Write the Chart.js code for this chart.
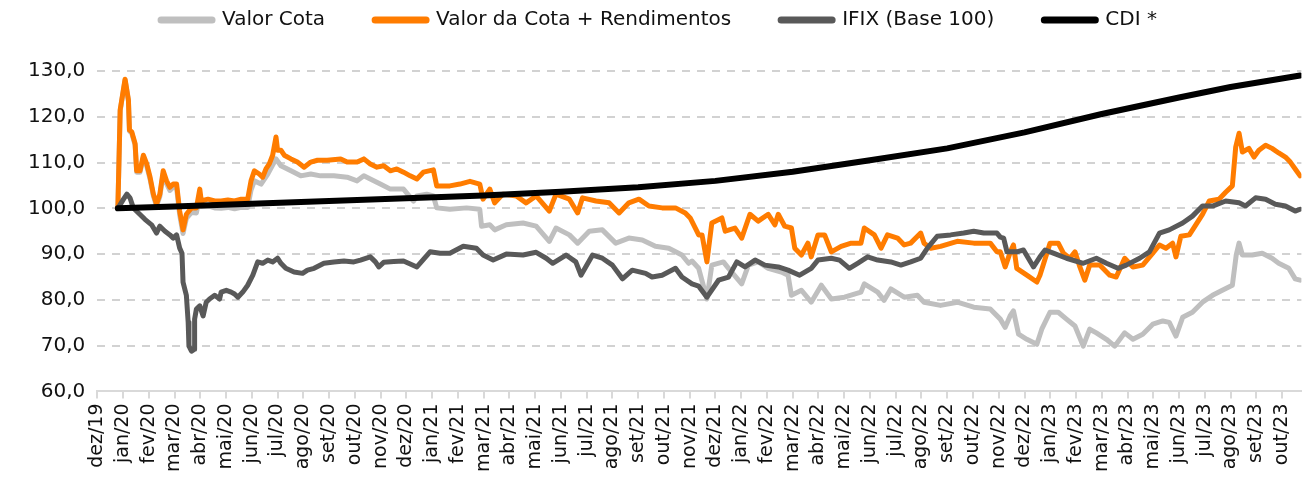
<!DOCTYPE html>
<html>
<head>
<meta charset="utf-8">
<script src="https://cdn.jsdelivr.net/npm/chart.js@4.4.1/dist/chart.umd.min.js"></script>
<style>
html,body{margin:0;padding:0;background:#fff;}
#wrap{width:1310px;height:478px;}
</style>
</head>
<body>
<div id="wrap"><canvas id="c" width="1310" height="478"></canvas></div>
<script>
const monthLabels = ["dez/19","jan/20","fev/20","mar/20","abr/20","mai/20","jun/20","jul/20","ago/20","set/20","out/20","nov/20","dez/20","jan/21","fev/21","mar/21","abr/21","mai/21","jun/21","jul/21","ago/21","set/21","out/21","nov/21","dez/21","jan/22","fev/22","mar/22","abr/22","mai/22","jun/22","jul/22","ago/22","set/22","out/22","nov/22","dez/22","jan/23","fev/23","mar/23","abr/23","mai/23","jun/23","jul/23","ago/23","set/23","out/23"];
const yTicks = [60,70,80,90,100,110,120,130];
const seriesNames = ["Valor Cota","Valor da Cota + Rendimentos","IFIX (Base 100)","CDI *"];

// x values are months elapsed since the dez/19 tick
const cotaX = [0.80,0.89,1.08,1.21,1.25,1.34,1.47,1.53,1.66,1.79,1.92,2.05,2.18,2.30,2.43,2.56,2.69,2.82,2.95,3.08,3.20,3.33,3.46,3.66,3.85,3.98,4.04,4.30,4.56,4.81,5.07,5.33,5.59,5.84,5.97,6.10,6.36,6.62,6.94,7.13,7.52,7.90,8.29,8.67,9.19,9.70,10.09,10.35,10.60,10.99,11.38,11.89,12.28,12.41,12.79,13.05,13.18,13.69,14.34,14.85,14.92,15.24,15.43,15.88,16.53,17.04,17.55,17.81,18.33,18.65,19.10,19.61,20.13,20.64,21.16,21.67,22.19,22.70,22.96,23.09,23.35,23.67,23.86,24.31,24.51,25.02,25.28,25.66,26.05,26.56,26.82,26.95,27.34,27.72,28.11,28.50,29.01,29.65,29.78,30.30,30.55,30.81,31.33,31.84,32.10,32.74,33.39,34.03,34.67,35.06,35.25,35.44,35.57,35.77,36.09,36.48,36.67,36.99,37.31,37.63,37.96,38.28,38.53,38.79,39.18,39.50,39.89,40.21,40.59,40.98,41.37,41.62,41.88,42.14,42.52,42.91,43.30,43.68,44.07,44.22,44.33,44.46,44.84,45.23,45.61,45.87,46.26,46.51,46.70];
const cotaY = [100.0,121.3,128.0,123.5,116.9,116.4,113.8,107.9,107.9,111.2,109.3,106.4,102.7,100.5,102.6,107.6,105.4,103.9,104.6,104.5,98.6,94.5,97.8,99.1,99.0,103.0,100.4,100.6,100.1,100.0,100.2,99.9,100.2,100.2,104.0,106.0,105.3,107.5,110.8,109.3,108.2,107.1,107.5,107.1,107.1,106.8,106.0,107.1,106.4,105.3,104.2,104.2,101.6,102.7,103.1,102.7,100.1,99.8,100.1,99.8,96.1,96.4,95.3,96.4,96.8,96.1,92.8,95.7,94.2,92.4,95.0,95.3,92.4,93.5,93.1,91.7,91.3,89.8,88.0,88.5,86.9,80.2,87.6,88.3,86.9,83.5,87.6,88.3,86.9,86.1,85.4,81.0,82.1,79.5,83.2,80.2,80.6,81.7,83.5,81.7,79.9,82.4,80.6,81.0,79.5,78.8,79.5,78.4,78.0,75.8,74.0,76.5,77.6,72.5,71.4,70.3,73.6,77.3,77.3,75.8,74.3,69.9,73.6,72.8,71.4,69.9,72.8,71.4,72.5,74.7,75.4,75.1,72.1,76.2,77.3,79.5,81.0,82.1,83.2,89.8,92.4,89.8,89.8,90.2,89.1,88.0,86.9,84.6,84.3];

const rendX = [0.80,0.89,1.08,1.21,1.25,1.34,1.47,1.53,1.66,1.79,1.92,2.05,2.18,2.30,2.43,2.56,2.69,2.82,2.95,3.08,3.20,3.33,3.46,3.66,3.85,3.98,4.04,4.30,4.56,4.81,5.07,5.33,5.59,5.84,5.97,6.10,6.29,6.42,6.55,6.68,6.81,6.94,7.00,7.13,7.26,7.52,7.77,8.03,8.29,8.55,8.93,9.45,9.70,10.09,10.35,10.60,10.86,11.12,11.38,11.63,11.89,12.15,12.41,12.66,13.05,13.18,13.69,14.08,14.47,14.85,14.98,15.24,15.43,15.75,16.27,16.65,17.04,17.55,17.81,18.33,18.65,18.84,19.36,19.87,20.26,20.64,21.03,21.42,21.93,22.45,22.83,23.02,23.22,23.35,23.48,23.67,23.86,24.25,24.38,24.76,25.02,25.34,25.66,26.05,26.31,26.44,26.69,26.95,27.08,27.34,27.59,27.72,27.98,28.24,28.50,28.88,29.27,29.65,29.78,30.17,30.43,30.68,31.07,31.33,31.58,31.97,32.10,32.36,32.74,33.39,34.03,34.67,34.93,35.06,35.25,35.45,35.57,35.70,36.09,36.48,36.60,36.99,37.31,37.51,37.76,37.96,38.15,38.34,38.53,38.92,39.31,39.56,39.89,40.21,40.59,40.98,41.24,41.49,41.75,41.88,42.07,42.40,42.65,42.91,43.17,43.55,43.81,44.07,44.20,44.33,44.46,44.71,44.91,45.10,45.36,45.61,45.87,46.13,46.32,46.51,46.70];
const rendY = [100.0,121.5,128.2,123.7,117.1,116.7,114.1,108.2,108.2,111.6,109.7,106.8,103.1,100.9,103.1,108.2,106.0,104.6,105.3,105.3,99.4,95.3,98.7,100.1,100.1,104.2,101.6,102.0,101.6,101.6,101.8,101.6,102.0,102.0,106.0,108.2,107.5,106.8,108.6,109.7,111.6,115.6,112.7,112.7,111.6,110.8,110.1,109.0,110.1,110.5,110.5,110.8,110.1,110.1,110.8,109.7,109.0,109.3,108.2,108.6,107.9,107.1,106.4,107.9,108.4,104.9,104.9,105.3,105.9,105.3,102.0,104.2,101.2,103.1,102.7,101.2,102.7,99.4,103.1,102.0,99.0,102.3,101.6,101.2,99.0,101.2,102.0,100.5,100.1,100.1,99.0,97.9,95.7,94.2,94.2,88.3,96.8,97.9,95.0,95.7,93.5,98.7,97.2,98.7,96.4,98.7,96.1,95.7,91.3,89.8,92.4,89.4,94.2,94.2,90.5,91.7,92.4,92.4,95.7,94.2,91.3,94.2,93.5,92.0,92.4,94.6,92.4,91.3,91.7,92.8,92.4,92.4,90.5,90.5,87.2,90.5,92.0,86.9,85.4,83.9,85.4,92.4,92.4,90.2,89.1,90.5,87.2,84.3,87.6,87.6,85.4,85.0,89.1,87.2,87.6,90.2,92.0,91.3,92.4,89.4,93.9,94.2,96.4,98.7,101.6,102.0,103.5,104.9,113.4,116.4,112.3,113.1,111.2,112.7,113.8,113.1,112.1,111.2,110.1,108.6,107.1];

const ifixX = [0.80,1.02,1.15,1.27,1.40,1.60,1.85,2.11,2.30,2.43,2.63,2.82,2.95,3.08,3.20,3.29,3.33,3.46,3.53,3.56,3.66,3.76,3.78,3.85,3.98,4.11,4.23,4.36,4.56,4.75,4.81,5.01,5.20,5.33,5.46,5.65,5.84,6.04,6.23,6.42,6.62,6.81,7.00,7.13,7.32,7.64,7.97,8.16,8.42,8.80,9.19,9.58,9.96,10.22,10.60,10.80,10.93,11.12,11.51,11.89,12.41,12.92,13.31,13.69,14.21,14.72,14.98,15.37,15.88,16.53,17.04,17.43,17.68,18.20,18.58,18.78,19.23,19.61,20.00,20.39,20.77,21.29,21.54,21.93,22.45,22.70,23.09,23.35,23.67,24.12,24.51,24.83,25.15,25.54,25.92,26.44,26.82,27.27,27.72,27.98,28.50,28.82,29.20,29.52,29.91,30.30,30.81,31.20,31.58,31.97,32.23,32.61,33.13,33.64,34.03,34.42,34.93,35.06,35.19,35.32,35.70,35.96,36.35,36.60,36.80,37.12,37.63,38.28,38.79,39.18,39.63,39.95,40.47,40.85,41.24,41.62,42.14,42.52,42.91,43.30,43.81,44.33,44.58,44.97,45.36,45.74,46.13,46.51,46.70];
const ifixY = [100.0,102.0,103.1,102.3,100.1,99.0,97.6,96.4,94.6,96.1,95.0,94.2,93.5,94.2,91.3,90.2,83.9,81.0,75.1,69.9,68.8,69.2,75.8,78.0,78.7,76.5,79.5,80.2,81.0,80.2,81.7,82.1,81.7,81.3,80.6,81.7,83.2,85.4,88.3,88.0,88.7,88.3,89.1,88.0,86.9,86.1,85.8,86.5,86.9,88.0,88.3,88.5,88.3,88.7,89.4,88.3,87.2,88.2,88.4,88.5,87.2,90.5,90.2,90.2,91.7,91.3,89.8,88.7,90.0,89.8,90.4,89.1,88.0,89.8,88.3,85.4,89.8,89.1,87.6,84.6,86.5,85.8,85.0,85.4,86.9,85.0,83.5,83.0,80.6,84.3,85.0,88.3,87.2,88.7,87.6,87.2,86.5,85.4,86.9,88.7,89.1,88.7,86.9,88.0,89.4,88.7,88.3,87.6,88.3,89.1,91.3,93.9,94.2,94.6,95.0,94.6,94.6,93.7,93.5,90.5,90.5,90.9,87.2,89.4,90.9,90.2,89.1,88.0,89.1,88.0,86.9,87.6,89.1,90.5,94.6,95.3,96.8,98.3,100.5,100.5,101.6,101.2,100.5,102.3,102.0,100.9,100.5,99.4,99.8];

const cdiX = [0.80,3,6,9,12,15,18,21,24,27,30,33,36,39,42,44,46.70];
const cdiY = [100.0,100.4,101.0,101.6,102.2,102.8,103.6,104.6,106.0,108.0,110.5,113.1,116.6,120.6,124.2,126.5,129.0];

const toPts = (xs, ys) => xs.map((x, i) => ({x: x, y: ys[i]}));

const FONT = "'DejaVu Sans', sans-serif";

const legendSpace = {
  id: 'legendSpace',
  beforeInit(chart) {
    const origFit = chart.legend.fit;
    chart.legend.fit = function () {
      origFit.bind(chart.legend)();
      this.height += 31;
    };
  }
};

const lineDs = (label, pts, color, width, order) => ({
  label: label,
  data: pts,
  borderColor: color,
  backgroundColor: color,
  borderWidth: width,
  pointRadius: 0,
  pointHoverRadius: 0,
  tension: 0,
  borderJoinStyle: 'round',
  borderCapStyle: 'round',
  fill: false,
  order: order
});

new Chart(document.getElementById('c'), {
  type: 'line',
  data: {
    datasets: [
      lineDs(seriesNames[0], toPts(cotaX, cotaY), '#BFBFBF', 5, 4),
      lineDs(seriesNames[1], toPts(rendX, rendY), '#FF7C00', 5, 3),
      lineDs(seriesNames[2], toPts(ifixX, ifixY), '#595959', 5, 2),
      lineDs(seriesNames[3], toPts(cdiX, cdiY), '#000000', 6, 1)
    ]
  },
  options: {
    responsive: false,
    animation: false,
    layout: { padding: { left: 16, right: 8, top: -40, bottom: 1 } },
    plugins: {
      tooltip: { enabled: false },
      legend: {
        position: 'top',
        align: 'center',
        labels: {
          font: { family: FONT, size: 20 },
          color: '#111',
          usePointStyle: true,
          pointStyle: 'line',
          pointStyleWidth: 51,
          padding: 50,
          sort: (a, b) => a.datasetIndex - b.datasetIndex,
          generateLabels: (chart) => {
            const items = Chart.defaults.plugins.legend.labels.generateLabels(chart);
            items.forEach(it => {
              it.lineWidth = 7;
              it.lineCap = 'round';
              it.pointStyle = 'line';
              it.fillStyle = it.strokeStyle;
            });
            return items;
          }
        }
      }
    },
    scales: {
      x: {
        type: 'linear',
        min: 0,
        max: 46.75,
        afterBuildTicks: (scale) => { scale.ticks = monthLabels.map((_, i) => ({ value: i })); },
        ticks: {
          autoSkip: false,
          minRotation: 90,
          maxRotation: 90,
          padding: 5,
          color: '#111',
          font: { family: FONT, size: 19 },
          callback: (v) => monthLabels[v]
        },
        grid: {
          drawOnChartArea: false,
          drawTicks: true,
          tickLength: 7,
          color: '#D9D9D9',
          lineWidth: 2
        },
        border: { display: true, color: '#D9D9D9', width: 2 }
      },
      y: {
        min: 60,
        max: 130,
        afterBuildTicks: (scale) => { scale.ticks = yTicks.map(v => ({ value: v })); },
        ticks: {
          padding: 12,
          color: '#111',
          font: { family: FONT, size: 20 },
          callback: (v) => v.toFixed(1).replace('.', ',')
        },
        grid: {
          display: true,
          drawOnChartArea: true,
          drawTicks: false,
          color: '#D2D2D2',
          lineWidth: 2
        },
        border: { display: false, dash: [8, 7] }
      }
    }
  },
  plugins: [legendSpace]
});
</script>
</body>
</html>
